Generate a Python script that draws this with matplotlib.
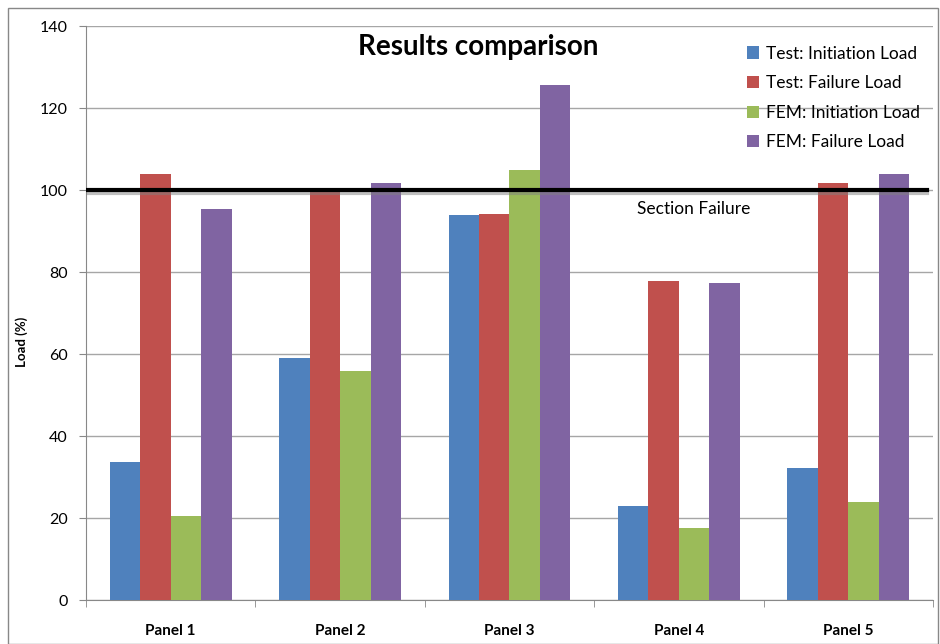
import numpy as np
import matplotlib
matplotlib.use("Agg")
import matplotlib.pyplot as plt
import matplotlib.patheffects as pe
from matplotlib.patches import Rectangle

plt.rcParams['font.family'] = ['Lato', 'DejaVu Sans']

panels = ["Panel 1", "Panel 2", "Panel 3", "Panel 4", "Panel 5"]
series = ["Test: Initiation Load", "Test: Failure Load",
          "FEM: Initiation Load", "FEM: Failure Load"]
test_init = [33.6, 59.0, 93.8, 23.0, 32.3]
test_fail = [103.8, 99.8, 94.1, 77.8, 101.6]
fem_init = [20.5, 55.9, 105.0, 17.5, 23.9]
fem_fail = [95.4, 101.6, 125.6, 77.3, 103.8]
section_failure = 100
colors = ["#4F81BD", "#C0504D", "#9BBB59", "#8064A2"]

fig = plt.figure(figsize=(9.4, 6.44), dpi=100)
fig.patches.append(Rectangle((8/940, 0), 930/940, 636/644, transform=fig.transFigure,
                             fill=False, edgecolor="#888888", lw=1))
ax = fig.add_axes([86/940, 44/644, 847/940, 574/644])

x = np.arange(len(panels))
w = 0.18
for i, vals in enumerate([test_init, test_fail, fem_init, fem_fail]):
    ax.bar(x + (i - 1.5) * w, vals, w, color=colors[i], label=series[i], zorder=3)

ax.axhline(section_failure, color="black", lw=3, zorder=4, xmax=0.993,
           path_effects=[pe.SimpleLineShadow(offset=(0, -2.5), shadow_color="gray", alpha=0.5),
                         pe.Normal()])
ax.text(3.09, 95.4, "Section Failure", ha="center", va="center", fontsize=12.5)

ax.set_xlim(-0.5, 4.5)
ax.set_ylim(0, 140)
ax.set_yticks(np.arange(0, 141, 20))
ax.yaxis.grid(True, color="#a6a6a6", lw=1, zorder=0)
ax.set_xticks(x)
ax.set_xticklabels(panels, fontsize=11, fontweight="bold")
ax.set_xticks(np.arange(-0.5, 4.6, 1), minor=True)
ax.tick_params(axis="x", which="major", length=0, pad=17)
ax.tick_params(axis="x", which="minor", length=5, color="#888888", direction="out")
ax.tick_params(axis="y", length=5, color="#888888", labelsize=11.5, pad=8)
for s in ["top", "right"]:
    ax.spines[s].set_visible(False)
for s in ["left", "bottom"]:
    ax.spines[s].set_color("#888888")
ax.set_ylabel("Load (%)", fontsize=9.5, fontweight="bold")
ax.yaxis.set_label_coords(-0.068, 0.45)

ax.set_title("Results comparison", fontsize=20, fontweight="bold", x=0.463, y=0.935)

leg = ax.legend(loc="upper right", bbox_to_anchor=(1.003, 0.993), frameon=False,
                fontsize=12.5, handlelength=0.7, handleheight=0.7, handletextpad=0.4,
                labelspacing=0.78)

fig.savefig("out.png", dpi=100)
